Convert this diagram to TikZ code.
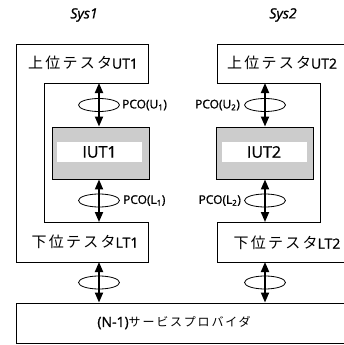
\documentclass[tikz,border=0pt]{standalone}
\usepackage{fontspec}
\setmainfont{Open Sans}[FakeBold=1.2]
\newfontfamily\jp[LetterSpace=15]{Noto Sans CJK JP}
\usetikzlibrary{arrows.meta,shapes.geometric}
\tikzset{
  frame/.style={draw, line width=0.9pt, line join=miter},
  spbox/.style={frame, minimum width=344pt, minimum height=40pt, inner sep=0pt},
  iutbox/.style={
    draw, line width=0.9pt, fill=gray!40,
    minimum width=97pt, minimum height=52pt, inner sep=0pt
  },
  iutcore/.style={
    fill=white, minimum width=85pt, minimum height=20pt,
    inner sep=0pt, font=\fontsize{16}{18}\selectfont
  },
  tester/.style={inner sep=0pt, font=\fontsize{14}{16}\selectfont},
  ring/.style={draw, ellipse, line width=0.8pt, minimum width=41pt, minimum height=13pt, inner sep=0pt},
  link/.style={{Triangle[width=8pt,length=10pt]}-{Triangle[width=8pt,length=10pt]}, line width=1.8pt},
  pco/.style={inner sep=0pt, font=\fontsize{12}{14}\selectfont},
  sysname/.style={font=\itshape\fontsize{14}{16}\selectfont}
}
\newcommand{\jtext}[2][15]{{\jp\fontsize{#1}{#1}\selectfont #2}}

\begin{document}
\begin{tikzpicture}[x=1pt, y=-1pt]
  \useasboundingbox (0,0) rectangle (344,345);
  \clip (0,0) rectangle (344,345);
  \node[sysname] (sys1) at (84,15) {Sys1};
  \node[sysname] (sys2) at (283,15) {Sys2};
  \draw[frame] (16,44) -- (148,44) -- (148,83) -- (44,83) -- (44,222)
    -- (148,222) -- (148,262) -- (16,262) -- cycle;
  \draw[frame] (360,44) -- (217,44) -- (217,83) -- (320,83) -- (320,222)
    -- (217,222) -- (217,262) -- (360,262);
  \node[tester] (ut1) at (83,63) {\jtext{上位テスタ}UT1};
  \node[tester] (lt1) at (85,242) {\jtext{下位テスタ}LT1};
  \node[tester] (ut2) at (282,63) {\jtext{上位テスタ}UT2};
  \node[tester] (lt2) at (287,243) {\jtext{下位テスタ}LT2};
  \coordinate (ut1port) at (99,83);
  \coordinate (lt1top) at (99,222);
  \coordinate (lt1port) at (99,262);
  \coordinate (ut2port) at (265,83);
  \coordinate (lt2top) at (265,222);
  \coordinate (lt2port) at (265,262);
  \node[iutbox] (iut1box) at (100.5,153) {};
  \node[iutcore] (iut1) at (99.5,152) {IUT1};
  \node[iutbox] (iut2box) at (265,153) {};
  \node[iutcore] (iut2) at (264,152) {IUT2};
  \node[spbox] (sp) at (188,323) {};
  \node[tester] (spname) at (174,323) {(N-1)\jtext[12]{サービスプロバイダ}};
  \node[ring] (ringu1) at (99,105) {};
  \node[ring] (ringl1) at (99,200.5) {};
  \node[ring] (ringn1) at (99,282.5) {};
  \node[ring] (ringu2) at (265,105) {};
  \node[ring] (ringl2) at (265,200.5) {};
  \node[ring] (ringn2) at (265,282.5) {};
  \draw[link] (ut1port) -- (iut1box.north -| ut1port);
  \draw[link] (iut1box.south -| lt1top) -- (lt1top);
  \draw[link] (lt1port) -- (sp.north -| lt1port);
  \draw[link] (ut2port) -- (iut2box.north -| ut2port);
  \draw[link] (iut2box.south -| lt2top) -- (lt2top);
  \draw[link] (lt2port) -- (sp.north -| lt2port);
  \node[pco, anchor=west] (pcou1) at ([xshift=2pt]ringu1.east) {PCO(U\textsubscript{1})};
  \node[pco, anchor=west] (pcol1) at ([xshift=3pt]ringl1.east) {PCO(L\textsubscript{1})};
  \node[pco, anchor=east] (pcou2) at ([xshift=-4pt]ringu2.west) {PCO(U\textsubscript{2})};
  \node[pco, anchor=east] (pcol2) at ([xshift=-3pt]ringl2.west) {PCO(L\textsubscript{2})};
\end{tikzpicture}
\end{document}
